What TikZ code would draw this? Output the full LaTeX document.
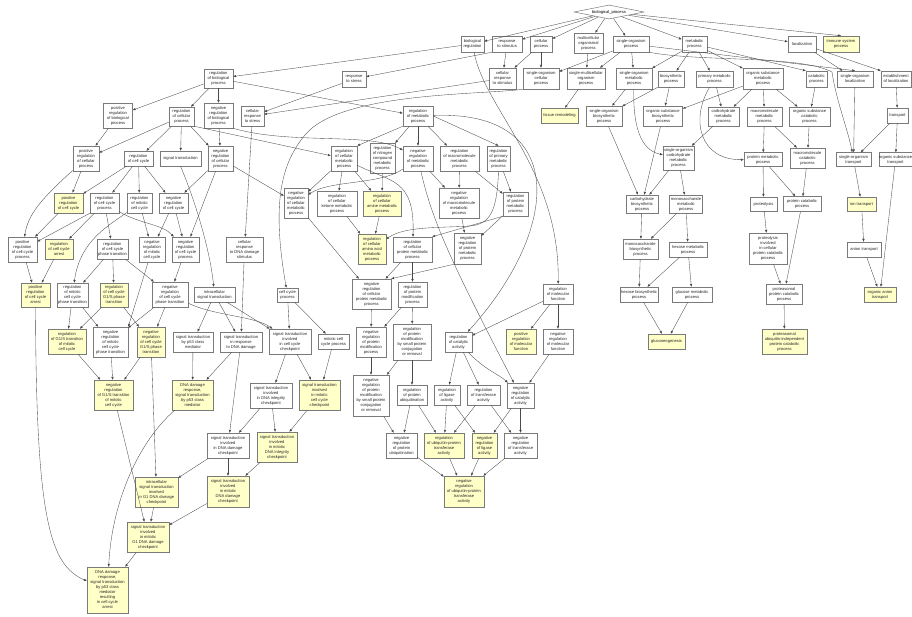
\documentclass[tikz,border=0pt]{standalone}
\usepackage{fontspec}
\setmainfont{Liberation Sans}
\usetikzlibrary{arrows.meta,shapes.geometric,shadows}
\definecolor{hly}{HTML}{FFFFC8}
\definecolor{bord}{HTML}{7A7A7A}
\definecolor{ln}{HTML}{4A4A4A}
\begin{document}
\begin{tikzpicture}[x=1pt,y=-1pt,
 box/.style={draw=bord, line width=0.55pt, fill=white, rectangle, inner sep=0pt, align=center,
   font=\fontsize{4.1}{5}\selectfont, text=black!85,
   drop shadow={shadow xshift=0.6pt,shadow yshift=-0.6pt,fill=black!35,opacity=1}},
 hl/.style={box, fill=hly},
 wh/.style 2 args={minimum width=#1pt, minimum height=#2pt},
 conn/.style={draw=ln, line width=0.35pt, -{Triangle[length=2.8pt,width=2.2pt]}},
]
\fill[white] (0,0) rectangle (912,616);
\path[use as bounding box] (0,0) rectangle (912,616);

% ---------- top ----------
\node[draw=bord, fill=white, shape=diamond, aspect=5, minimum width=70pt, minimum height=14pt,
  inner sep=0pt, line width=0.5pt, font=\fontsize{4.1}{5}\selectfont] (bp) at (609,12) {biological\_process};

% row 1
\node[box,wh={23}{16}] (bioreg) at (472.5,44) {biological\\regulation};
\node[box,wh={30}{16}] (respstim) at (507,44) {response\\to stimulus};
\node[box,wh={22}{16}] (cellproc) at (541,44) {cellular\\process};
\node[box,wh={29}{20}] (multicell) at (588.5,43) {multicellular\\organismal\\process};
\node[box,wh={36}{16}] (singorg) at (631,44) {single-organism\\process};
\node[box,wh={25}{16}] (metab) at (694.5,44) {metabolic\\process};
\node[box,wh={28}{16}] (local) at (802,44) {localization};
\node[hl,wh={36}{16}] (immune) at (841,44) {immune system\\process};

% row 2
\node[box,wh={29}{19}] (regbp) at (218.5,78.5) {regulation\\of biological\\process};
\node[box,wh={24}{16}] (respstress) at (354,79) {response\\to stress};
\node[box,wh={27}{21}] (cellrespstim) at (502.5,78.5) {cellular\\response\\to stimulus};
\node[box,wh={36}{21}] (singcell) at (541,78.5) {single-organism\\cellular\\process};
\node[box,wh={38}{21}] (singmulti) at (586,78.5) {single-multicellular\\organism\\process};
\node[box,wh={36}{21}] (singmetab) at (634,78.5) {single-organism\\metabolic\\process};
\node[box,wh={26}{16}] (biosyn) at (671,79) {biosynthetic\\process};
\node[box,wh={37}{16}] (primmetab) at (714.5,79) {primary metabolic\\process};
\node[box,wh={40}{21}] (orgsubmetab) at (763,78.5) {organic substance\\metabolic\\process};
\node[box,wh={21}{16}] (catab) at (816.5,79) {catabolic\\process};
\node[box,wh={36}{16}] (singloc) at (855,79) {single-organism\\localization};
\node[box,wh={30}{16}] (estloc) at (896,79) {establishment\\of localization};

% row 3
\node[box,wh={29}{25}] (posregbp) at (118,115.5) {positive\\regulation\\of biological\\process};
\node[box,wh={25}{19}] (regcellproc) at (181.5,116.5) {regulation\\of cellular\\process};
\node[box,wh={29}{25}] (negregbp) at (218.5,115.5) {negative\\regulation\\of biological\\process};
\node[box,wh={23}{20}] (cellrespstress) at (252.5,116) {cellular\\response\\to stress};
\node[box,wh={30}{20}] (regmetab) at (418,116) {regulation\\of metabolic\\process};
\node[hl,wh={37}{15}] (tissue) at (559.5,115.5) {tissue remodeling};
\node[box,wh={36}{20}] (singbiosyn) at (604,116) {single-organism\\biosynthetic\\process};
\node[box,wh={39}{20}] (orgsubbiosyn) at (663,116) {organic substance\\biosynthetic\\process};
\node[box,wh={31}{19}] (carbmetab) at (723.5,116.5) {carbohydrate\\metabolic\\process};
\node[box,wh={35}{19}] (macromolmetab) at (764.5,116.5) {macromolecule\\metabolic\\process};
\node[box,wh={41}{19}] (orgsubcatab) at (809.5,116.5) {organic substance\\catabolic\\process};
\node[box,wh={21}{15}] (transport) at (897.5,115.5) {transport};

% row 4
\node[box,wh={26}{25}] (posregcellproc) at (86,158.5) {positive\\regulation\\of cellular\\process};
\node[box,wh={29}{15}] (regcellcycle) at (138.5,158.5) {regulation\\of cell cycle};
\node[box,wh={41}{15}] (sigtrans) at (180.5,158.5) {signal transduction};
\node[box,wh={25}{25}] (negregcellproc) at (220.5,158.5) {negative\\regulation\\of cellular\\process};
\node[box,wh={26}{25}] (regcellmetab) at (344,158.5) {regulation\\of cellular\\metabolic\\process};
\node[box,wh={25}{30}] (regnitrogen) at (382.5,158) {regulation\\of nitrogen\\compound\\metabolic\\process};
\node[box,wh={30}{25}] (negregmetab) at (418,158.5) {negative\\regulation\\of metabolic\\process};
\node[box,wh={39}{25}] (regmacromol) at (459.5,158.5) {regulation\\of macromolecule\\metabolic\\process};
\node[box,wh={23}{25}] (regprimary) at (498.5,158.5) {regulation\\of primary\\metabolic\\process};
\node[box,wh={31}{24}] (singcarbmetab) at (678.5,158) {single-organism\\carbohydrate\\metabolic\\process};
\node[box,wh={38}{14}] (protmetab) at (763,159.5) {protein metabolic\\process};
\node[box,wh={35}{20}] (macromolcatab) at (807.5,158) {macromolecule\\catabolic\\process};
\node[box,wh={35}{14}] (singtransport) at (853.5,159.5) {single-organism\\transport};
\node[box,wh={33}{14}] (orgsubtransport) at (895.5,159.5) {organic substance\\transport};

% row 5
\node[hl,wh={29}{20}] (posregcellcycle) at (68.5,203) {positive\\regulation\\of cell cycle};
\node[box,wh={29}{20}] (regcellcycleproc) at (104.5,203) {regulation\\of cell cycle\\process};
\node[box,wh={25}{20}] (regmitotic) at (139.5,203) {regulation\\of mitotic\\cell cycle};
\node[box,wh={29}{20}] (negregcellcycle) at (173.5,203) {negative\\regulation\\of cell cycle};
\node[box,wh={24}{30}] (negregcellmetab) at (296,203) {negative\\regulation\\of cellular\\metabolic\\process};
\node[box,wh={40}{25}] (regketone) at (337,203.5) {regulation\\of cellular\\ketone metabolic\\process};
\node[hl,wh={38}{25}] (regamine) at (382,203.5) {regulation\\of cellular\\amine metabolic\\process};
\node[box,wh={40}{30}] (negregmacromol) at (459,203) {negative\\regulation\\of macromolecule\\metabolic\\process};
\node[box,wh={25}{24}] (regprotmetab) at (515.5,204) {regulation\\of protein\\metabolic\\process};
\node[box,wh={32}{18}] (carbbiosyn) at (642,204) {carbohydrate\\biosynthetic\\process};
\node[box,wh={33}{18}] (monosaccmetab) at (686,204) {monosaccharide\\metabolic\\process};
\node[box,wh={27}{14}] (proteolysis) at (763.5,204) {proteolysis};
\node[box,wh={38}{15}] (protcatab) at (802,204) {protein catabolic\\process};
\node[hl,wh={29}{14}] (iontransport) at (861.5,204) {ion transport};

% row 6
\node[box,wh={29}{25}] (posregcellcycleproc) at (22.5,249.5) {positive\\regulation\\of cell cycle\\process};
\node[hl,wh={28}{20}] (regcellcyclearrest) at (59,249) {regulation\\of cell cycle\\arrest};
\node[box,wh={31}{20}] (regcellcyclephasetrans) at (112.5,249) {regulation\\of cell cycle\\phase transition};
\node[box,wh={26}{25}] (negregmitotic) at (152,249.5) {negative\\regulation\\of mitotic\\cell cycle};
\node[box,wh={27}{25}] (negregcellcycleproc) at (185.5,249.5) {negative\\regulation\\of cell cycle\\process};
\node[box,wh={37}{25}] (cellrespDNA) at (244.5,249.5) {cellular\\response\\to DNA damage\\stimulus};
\node[hl,wh={28}{30}] (regaminoacid) at (372,249) {regulation\\of cellular\\amino acid\\metabolic\\process};
\node[box,wh={39}{25}] (regcellprotmetab) at (412.5,249.5) {regulation\\of cellular\\protein metabolic\\process};
\node[box,wh={27}{31}] (negregprotmetab) at (467.5,248.5) {negative\\regulation\\of protein\\metabolic\\process};
\node[box,wh={35}{20}] (monosaccbiosyn) at (640.5,249) {monosaccharide\\biosynthetic\\process};
\node[box,wh={38}{15}] (hexosemetab) at (688,249.5) {hexose metabolic\\process};
\node[box,wh={38}{31}] (proteolysisinv) at (768,248.5) {proteolysis\\involved\\in cellular\\protein catabolic\\process};
\node[box,wh={34}{15}] (aniontransport) at (864,249.5) {anion transport};

% row 7
\node[hl,wh={29}{24}] (posregcellcyclearrest) at (35.5,295) {positive\\regulation\\of cell cycle\\arrest};
\node[box,wh={31}{24}] (regmitoticphasetrans) at (72.5,295) {regulation\\of mitotic\\cell cycle\\phase transition};
\node[hl,wh={28}{24}] (regcellcycleGS) at (114,295) {regulation\\of cell cycle\\G1/S phase\\transition};
\node[box,wh={36}{25}] (negregcellcyclephasetrans) at (170,294.5) {negative\\regulation\\of cell cycle\\phase transition};
\node[box,wh={41}{15}] (intracellular) at (214.5,294.5) {intracellular\\signal transduction};
\node[box,wh={21}{14}] (cellcycleproc) at (287.5,295) {cell cycle\\process};
\node[box,wh={39}{30}] (negregcellprotmetab) at (371.5,294) {negative\\regulation\\of cellular\\protein metabolic\\process};
\node[box,wh={29}{25}] (regprotmod) at (412.5,294.5) {regulation\\of protein\\modification\\process};
\node[box,wh={30}{20}] (regmolfunc) at (558,294) {regulation\\of molecular\\function};
\node[box,wh={38}{15}] (hexosebiosyn) at (639,294.5) {hexose biosynthetic\\process};
\node[box,wh={40}{15}] (glucosemetab) at (692,294.5) {glucose metabolic\\process};
\node[box,wh={36}{20}] (proteasomal) at (784,294) {proteasomal\\protein catabolic\\process};
\node[hl,wh={32}{15}] (organicanion) at (880,294.5) {organic anion\\transport};

% row 8
\node[hl,wh={38}{25}] (regGS) at (67,341.5) {regulation\\of G1/S transition\\of mitotic\\cell cycle};
\node[box,wh={35}{30}] (negregmitoticphasetrans) at (110.5,342) {negative\\regulation\\of mitotic\\cell cycle\\phase transition};
\node[hl,wh={28}{30}] (negregcellcycleGS) at (151,342) {negative\\regulation\\of cell cycle\\G1/S phase\\transition};
\node[box,wh={40}{20}] (sigtransp) at (193,342) {signal transduction\\by p53 class\\mediator};
\node[box,wh={42}{20}] (sigtransrespDNA) at (241,342) {signal transduction\\in response\\to DNA damage};
\node[box,wh={42}{25}] (sigtransccc) at (290,341.5) {signal transduction\\involved\\in cell cycle\\checkpoint};
\node[box,wh={31}{15}] (mitoticccproc) at (333.5,341.5) {mitotic cell\\cycle process};
\node[box,wh={30}{30}] (negregprotmod) at (371,342) {negative\\regulation\\of protein\\modification\\process};
\node[box,wh={38}{36}] (regprotmodsmall) at (412,342) {regulation\\of protein\\modification\\by small protein\\conjugation\\or removal};
\node[box,wh={27}{20}] (regcatalytic) at (458.5,342) {regulation\\of catalytic\\activity};
\node[hl,wh={30}{25}] (posregmolfunc) at (521,341.5) {positive\\regulation\\of molecular\\function};
\node[box,wh={30}{25}] (negregmolfunc) at (558,341.5) {negative\\regulation\\of molecular\\function};
\node[hl,wh={37}{15}] (gluconeo) at (666.5,341.5) {gluconeogenesis};
\node[hl,wh={45}{25}] (proteasomalubiq) at (784.5,341.5) {proteasomal\\ubiquitin-independent\\protein catabolic\\process};

% row 9
\node[hl,wh={39}{30}] (negregGS) at (113.5,395) {negative\\regulation\\of G1/S transition\\of mitotic\\cell cycle};
\node[hl,wh={41}{30}] (DNAp) at (192.5,395) {DNA damage\\response,\\signal transduction\\by p53 class\\mediator};
\node[box,wh={42}{25}] (sigtransDNAint) at (271,395.5) {signal transduction\\involved\\in DNA integrity\\checkpoint};
\node[hl,wh={41}{30}] (sigtransmitccc) at (319.5,395) {signal transduction\\involved\\in mitotic\\cell cycle\\checkpoint};
\node[box,wh={36}{41}] (negregprotmodsmall) at (371,395.5) {negative\\regulation\\of protein\\modification\\by small protein\\conjugation\\or removal};
\node[box,wh={30}{20}] (regprotubiq) at (412,395) {regulation\\of protein\\ubiquitination};
\node[box,wh={26}{20}] (regligase) at (447,395) {regulation\\of ligase\\activity};
\node[box,wh={33}{20}] (regtransferase) at (483.5,395) {regulation\\of transferase\\activity};
\node[box,wh={27}{25}] (negregcatalytic) at (520.5,395.5) {negative\\regulation\\of catalytic\\activity};

% row 10
\node[box,wh={42}{25}] (sigtransDNAdam) at (228,445.5) {signal transduction\\involved\\in DNA damage\\checkpoint};
\node[hl,wh={40}{30}] (sigtransmitDNAint) at (277,447) {signal transduction\\involved\\in mitotic\\DNA integrity\\checkpoint};
\node[box,wh={31}{25}] (negregprotubiq) at (401.5,445.5) {negative\\regulation\\of protein\\ubiquitination};
\node[hl,wh={40}{25}] (regubiq) at (444,445.5) {regulation\\of ubiquitin-protein\\transferase\\activity};
\node[hl,wh={25}{25}] (negregligase) at (484.5,445.5) {negative\\regulation\\of ligase\\activity};
\node[box,wh={33}{25}] (negregtransferase) at (520.5,445.5) {negative\\regulation\\of transferase\\activity};

% rows 11-13
\node[hl,wh={43}{30}] (intracellG) at (156.5,492) {intracellular\\signal transduction\\involved\\in G1 DNA damage\\checkpoint};
\node[hl,wh={42}{31}] (sigtransmitDNAdam) at (228,491.5) {signal transduction\\involved\\in mitotic\\DNA damage\\checkpoint};
\node[hl,wh={40}{31}] (negregubiq) at (464,491.5) {negative\\regulation\\of ubiquitin-protein\\transferase\\activity};
\node[hl,wh={42}{30}] (sigtransmitG) at (148,537) {signal transduction\\involved\\in mitotic\\G1 DNA damage\\checkpoint};
\node[hl,wh={41}{46}] (parrest) at (107.5,590) {DNA damage\\response,\\signal transduction\\by p53 class\\mediator\\resulting\\in cell cycle\\arrest};

% ---------- straight connectors ----------
\foreach \a/\b in {
 bp/bioreg, bp/respstim, bp/cellproc, bp/multicell, bp/singorg, bp/metab, bp/local,
 bioreg/regbp, respstim/cellrespstim, cellproc/cellrespstim, cellproc/singcell,
 multicell/singmulti, singorg/singcell, singorg/singmulti, singorg/singmetab,
 metab/singmetab, metab/biosyn, metab/primmetab, metab/orgsubmetab, local/singloc,
 singmulti/tissue, singmetab/singbiosyn, biosyn/orgsubbiosyn,
 primmetab/carbmetab, orgsubmetab/orgsubbiosyn, orgsubmetab/carbmetab, orgsubmetab/macromolmetab,
 orgsubmetab/orgsubcatab, catab/orgsubcatab, estloc/transport, singloc/singtransport,
 transport/singtransport, transport/orgsubtransport, carbmetab/singcarbmetab,
 macromolmetab/protmetab, macromolmetab/macromolcatab, orgsubcatab/macromolcatab,
 singbiosyn/carbbiosyn, orgsubbiosyn/carbbiosyn, singcarbmetab/carbbiosyn, singcarbmetab/monosaccmetab,
 protmetab/proteolysis, protmetab/protcatab, macromolcatab/protcatab, singtransport/iontransport,
 orgsubtransport/organicanion, carbbiosyn/monosaccbiosyn, monosaccmetab/monosaccbiosyn,
 monosaccmetab/hexosemetab, monosaccbiosyn/hexosebiosyn, hexosemetab/hexosebiosyn,
 hexosemetab/glucosemetab, hexosebiosyn/gluconeo, glucosemetab/gluconeo,
 proteolysis/proteolysisinv, protcatab/proteasomal, proteolysisinv/proteasomal,
 proteasomal/proteasomalubiq, iontransport/aniontransport, aniontransport/organicanion,
 regbp/posregbp, regbp/regcellproc, regbp/negregbp, regbp/regmetab,
 respstress/cellrespstress, cellrespstim/cellrespstress,
 regcellproc/posregcellproc, regcellproc/regcellcycle, regcellproc/sigtrans, regcellproc/negregcellproc,
 negregbp/negregcellproc, posregbp/posregcellproc, posregcellproc/posregcellcycle,
 regcellcycle/posregcellcycle, regcellcycle/regcellcycleproc, regcellcycle/regmitotic, regcellcycle/negregcellcycle,
 negregcellproc/negregcellcycle, negregcellproc/negregcellcycleproc, negregcellproc/negregcellmetab,
 regmetab/regnitrogen, regmetab/negregmetab, regmetab/regmacromol,
 regcellmetab/negregcellmetab, regcellmetab/regketone, regcellmetab/regamine, regnitrogen/regamine,
 negregmetab/negregmacromol, regmacromol/negregmacromol, regmacromol/regprotmetab, regprimary/regprotmetab,
 negregmacromol/negregprotmetab, regprotmetab/negregprotmetab,
 regketone/regaminoacid, regamine/regaminoacid, negregcellmetab/negregcellprotmetab,
 regcellprotmetab/negregcellprotmetab, regcellprotmetab/regprotmod, cellrespstress/cellrespDNA,
 posregcellcycle/posregcellcycleproc, regcellcycleproc/regcellcyclearrest, regcellcycleproc/regcellcyclephasetrans,
 regmitotic/negregmitotic, negregcellcycle/negregmitotic, negregcellcycle/negregcellcycleproc,
 posregcellcycleproc/posregcellcyclearrest, regcellcyclearrest/posregcellcyclearrest,
 regcellcyclephasetrans/regmitoticphasetrans, regcellcyclephasetrans/regcellcycleGS,
 regcellcyclephasetrans/negregcellcyclephasetrans, negregcellcycleproc/negregcellcyclephasetrans,
 cellrespDNA/sigtransrespDNA, intracellular/sigtransp, intracellular/sigtransrespDNA, intracellular/sigtransccc,
 cellcycleproc/sigtransccc, cellcycleproc/mitoticccproc,
 regmitoticphasetrans/regGS, regmitoticphasetrans/negregmitoticphasetrans,
 regcellcycleGS/regGS, regcellcycleGS/negregcellcycleGS,
 negregcellcyclephasetrans/negregmitoticphasetrans, negregcellcyclephasetrans/negregcellcycleGS,
 negregcellprotmetab/negregprotmod, regprotmod/negregprotmod, regprotmod/regprotmodsmall,
 regmolfunc/regcatalytic, regmolfunc/posregmolfunc, regmolfunc/negregmolfunc,
 regGS/negregGS, negregmitoticphasetrans/negregGS, negregcellcycleGS/negregGS, negregcellcycleGS/intracellG,
 sigtransp/DNAp, sigtransrespDNA/DNAp, sigtransrespDNA/sigtransDNAdam,
 sigtransccc/sigtransDNAint, sigtransccc/sigtransmitccc, mitoticccproc/sigtransmitccc,
 negregprotmod/negregprotmodsmall, regprotmodsmall/negregprotmodsmall, regprotmodsmall/regprotubiq,
 regcatalytic/regligase, regcatalytic/regtransferase, negregmolfunc/negregcatalytic,
 negregGS/sigtransmitG,
 sigtransDNAint/sigtransDNAdam, sigtransDNAint/sigtransmitDNAint, sigtransmitccc/sigtransmitDNAint,
 regprotubiq/negregprotubiq, negregprotmodsmall/negregprotubiq, regprotubiq/regubiq,
 regligase/regubiq, regligase/negregligase, regtransferase/regubiq, regtransferase/negregtransferase,
 negregcatalytic/negregligase, negregcatalytic/negregtransferase,
 sigtransDNAdam/intracellG, sigtransDNAdam/sigtransmitDNAdam, sigtransmitDNAint/sigtransmitDNAdam,
 negregprotubiq/negregubiq, regubiq/negregubiq, negregligase/negregubiq, negregtransferase/negregubiq,
 intracellG/sigtransmitG, sigtransmitDNAdam/sigtransmitG, sigtransmitG/parrest}
 \draw[conn] (\a) -- (\b);

% ---------- connectors with chosen anchors ----------
\draw[conn] (bp) -- (immune.north);
\draw[conn] (respstim.south west) -- (respstress);
\draw[conn] (singorg) -- (singloc.north);
\draw[conn] (metab) -- (catab.north west);
\draw[conn] (local) -- (estloc.north west);
\draw[conn] (biosyn.south west) -- (singbiosyn);
\draw[conn] (regcellproc.south east) -- (regcellmetab);
\draw[conn] (regmetab.south west) -- (regcellmetab.north east);
\draw[conn] (regmetab.east) -- (regprimary.north);
\draw[conn] (regcellcycleproc.south west) -- (posregcellcycleproc);
\draw[conn] (regprotmetab.south west) -- (regcellprotmetab.north east);
\draw[conn] (negregprotmetab.south west) -- (negregcellprotmetab.north east);
\draw[conn] (negregmitotic) -- (negregmitoticphasetrans.north east);

% ---------- curved connectors ----------
\draw[conn] (bioreg) .. controls (485,110) and (560,170) .. (regmolfunc);
\draw[conn] (singorg.south east) .. controls (700,62) and (800,55) .. (832,72)
            .. controls (836,100) and (848,130) .. (singtransport);
\draw[conn] (singmetab) .. controls (633,125) and (640,150) .. (singcarbmetab);
\draw[conn] (primmetab) .. controls (690,120) and (700,160) .. (protmetab);
\draw[conn] (singcell.south west) .. controls (480,95) and (340,92) .. (305,135)
            .. controls (280,165) and (272,205) .. (cellcycleproc);
\draw[conn] (negregbp.south east) .. controls (290,145) and (370,132) .. (negregmetab);
\draw[conn] (regcellmetab) .. controls (390,182) and (415,178) .. (regcellprotmetab);
\draw[conn] (negregmetab) .. controls (380,185) and (330,180) .. (negregcellmetab);
\draw[conn] (regmetab) .. controls (570,110) and (560,230) .. (regcatalytic);
\draw[conn] (regprimary.south) .. controls (497,212) and (490,224) .. (470,226)
            .. controls (440,228) and (405,226) .. (regaminoacid);
\draw[conn] (negregmetab) .. controls (432,220) and (450,260) .. (negregcatalytic);
\draw[conn] (regcatalytic) .. controls (485,370) and (500,375) .. (negregcatalytic);
\draw[conn] (sigtrans.south) .. controls (195,200) and (210,250) .. (intracellular);
\draw[conn] (posregcellproc) .. controls (40,200) and (28,215) .. (posregcellcycleproc);
\draw[conn] (regcellcycleproc) .. controls (140,224) and (162,224) .. (negregcellcycleproc);
\draw[conn] (regmitotic) .. controls (110,225) and (80,240) .. (regmitoticphasetrans);
\draw[conn] (negregcellcyclephasetrans) .. controls (215,316) and (255,316) .. (sigtransccc);
\draw[conn] (DNAp) .. controls (140,440) and (112,500) .. (parrest);
\draw[conn] (posregcellcyclearrest) .. controls (36,520) and (50,565) .. (parrest);
\end{tikzpicture}
\end{document}
